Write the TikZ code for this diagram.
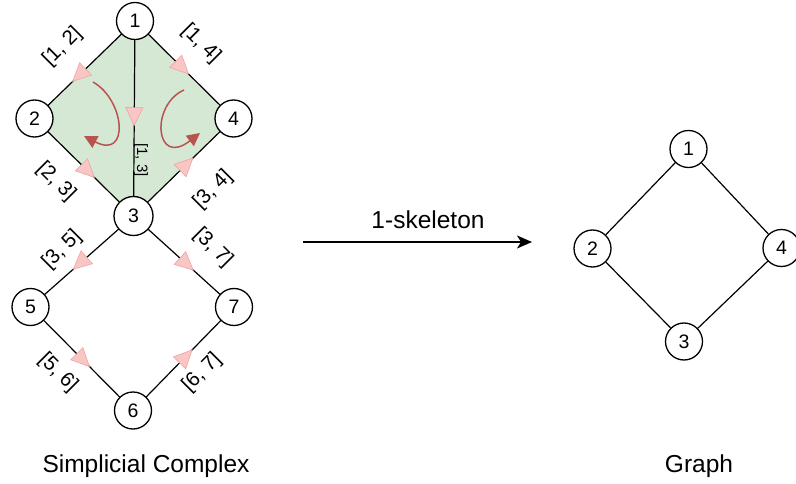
\documentclass[tikz,border=0pt]{standalone}
\usepackage{fontspec}
\setmainfont{Liberation Sans}
\usetikzlibrary{arrows.meta,decorations.markings,backgrounds}
\definecolor{facegreen}{HTML}{D5E8D4}
\definecolor{tipfill}{HTML}{F8C6C4}
\definecolor{tipline}{HTML}{F2A3A1}
\definecolor{curvered}{HTML}{B85450}
\tikzset{
  vertex/.style={circle, draw, line width=1.3pt, fill=white, minimum size=37pt,
    inner sep=0pt, font=\fontsize{19.5}{20}\selectfont},
  edgeline/.style={line width=1.2pt},
  midtip/.style={postaction={decorate}, decoration={markings, mark=at position #1 with
    {\arrow{Triangle[width=18pt,length=19pt,fill=tipfill,color=tipline,line width=0.6pt]}}}},
  elabel/.style={font=\fontsize{20.5}{21}\selectfont, inner sep=1pt},
  slabel/.style={font=\fontsize{15}{15}\selectfont, inner sep=1pt},
  turn/.style={draw=curvered, line width=1.5pt, -{Triangle[width=13pt,length=13pt]}},
  caption/.style={font=\fontsize{24.5}{25}\selectfont, inner sep=0pt},
}
\begin{document}
\begin{tikzpicture}[x=1pt, y=-1pt]
\useasboundingbox (0,0) rectangle (796,484);

% simplicial complex vertices
\node[vertex] (a1) at (135,21) {1};
\node[vertex] (a2) at (34.5,118.5) {2};
\node[vertex] (a4) at (233.5,118.5) {4};
\node[vertex, minimum size=39pt] (a3) at (133.5,216) {3};
\node[vertex] (a5) at (30.5,307) {5};
\node[vertex] (a7) at (234,307) {7};
\node[vertex] (a6) at (133,410.5) {6};

\begin{scope}[on background layer]
  % the two filled 2-simplices
  \fill[facegreen] (a1.center) -- (a2.center) -- (a3.center) -- (a4.center) -- cycle;
  % oriented edges
  \draw[edgeline, midtip=0.625] (a1.center) -- (a2.center);
  \draw[edgeline, midtip=0.55]  (a1.center) -- (a4.center);
  \draw[edgeline, midtip=0.54]  (a1.center) -- (a3.center);
  \draw[edgeline, midtip=0.61]  (a2.center) -- (a3.center);
  \draw[edgeline, midtip=0.60]  (a3.center) -- (a4.center);
  \draw[edgeline, midtip=0.59]  (a3.center) -- (a5.center);
  \draw[edgeline, midtip=0.60]  (a3.center) -- (a7.center);
  \draw[edgeline, midtip=0.58]  (a5.center) -- (a6.center);
  \draw[edgeline, midtip=0.59]  (a6.center) -- (a7.center);
\end{scope}

% orientation of the faces
\draw[turn] (93,82) .. controls (125,100) and (130,160) .. (84,136);
\draw[turn] (184,90) .. controls (150,105) and (155,168) .. (200,133);

% edge labels
\node[elabel, rotate=45]  (l12) at (62.5,47)  {[1, 2]};
\node[elabel, rotate=-45] (l14) at (201,44) {[1, 4]};
\node[slabel, rotate=-90] (l13) at (141,160) {[1, 3]};
\node[elabel, rotate=-45] (l23) at (56,182) {[2, 3]};
\node[elabel, rotate=45]  (l34) at (213,190) {[3, 4]};
\node[elabel, rotate=45]  (l35) at (62,250) {[3, 5]};
\node[elabel, rotate=-45] (l37) at (213,248) {[3, 7]};
\node[elabel, rotate=-45] (l56) at (58,373) {[5, 6]};
\node[elabel, rotate=45]  (l67) at (202,373) {[6, 7]};

% 1-skeleton map
\coordinate (s0) at (303,242);
\coordinate (s1) at (532,242);
\draw[line width=1.3pt, -{Stealth[length=15pt,width=13pt,inset=4pt]}] (s0) -- (s1);
\node[caption] (skel) at (428,220) {1-skeleton};

% resulting graph
\node[vertex] (g1) at (688.5,149) {1};
\node[vertex] (g2) at (592.5,248.5) {2};
\node[vertex] (g4) at (781.5,248) {4};
\node[vertex] (g3) at (684,341.5) {3};
\draw[edgeline] (g1) -- (g2);
\draw[edgeline] (g1) -- (g4);
\draw[edgeline] (g2) -- (g3);
\draw[edgeline] (g3) -- (g4);

% captions
\node[caption] (cap1) at (146,466) {Simplicial Complex};
\node[caption] (cap2) at (699,466) {Graph};
\end{tikzpicture}
\end{document}
